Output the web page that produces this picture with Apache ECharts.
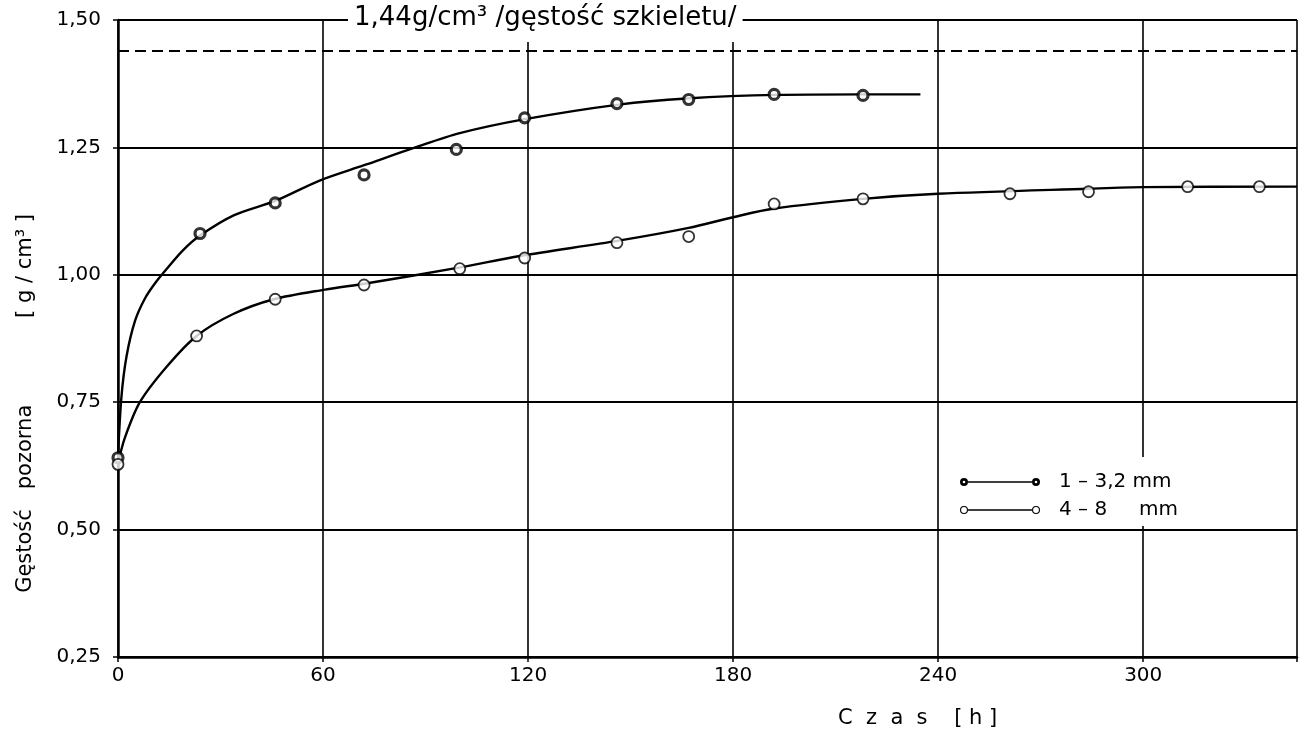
<!DOCTYPE html>
<html>
<head>
<meta charset="utf-8">
<title>Gęstość pozorna</title>
<script src="https://cdn.jsdelivr.net/npm/echarts@6/dist/echarts.min.js"></script>
<style>
  html, body { margin: 0; padding: 0; background: #fff; }
  #chart { width: 1307px; height: 736px; }
</style>
</head>
<body>
<div id="chart"></div>
<script>
  // measured points: time [h] / apparent density [g/cm3]
  const smallTime = [0, 24, 46, 72, 99, 119, 146, 167, 192, 218]
  const smallDensity = [0.641, 1.081, 1.141, 1.196, 1.246, 1.308, 1.336, 1.344, 1.354, 1.352]
  const largeTime = [0, 23, 46, 72, 100, 119, 146, 167, 192, 218, 261, 284, 313, 334]
  const largeDensity = [0.628, 0.880, 0.952, 0.980, 1.012, 1.033, 1.063, 1.075, 1.139, 1.149, 1.159, 1.163, 1.173, 1.173]

  // hand drawn curves
  const smallCurveTime = [0, 1, 2.5, 5, 8, 11, 14.3, 19, 24, 34, 46, 59, 72, 87, 100, 118.7, 146.5, 166.4, 192.7, 217.8, 234.8]
  const smallCurveDensity = [0.645, 0.76, 0.84, 0.91, 0.955, 0.985, 1.012, 1.048, 1.077, 1.117, 1.145, 1.185, 1.215, 1.25, 1.278, 1.305, 1.334, 1.346, 1.353, 1.354, 1.354]
  const largeCurveTime = [0, 2, 6.4, 14.3, 23, 33.7, 45.6, 60.6, 72.5, 99.7, 117.6, 146.5, 167, 180, 192, 218, 240, 284, 300, 345]
  const largeCurveDensity = [0.63, 0.68, 0.75, 0.82, 0.88, 0.923, 0.952, 0.971, 0.983, 1.014, 1.037, 1.067, 1.092, 1.113, 1.13, 1.149, 1.159, 1.169, 1.172, 1.173]

  const xTicks = [0, 60, 120, 180, 240, 300]
  const xMax = 345
  const yTicks = [0.25, 0.5, 0.75, 1.0, 1.25, 1.5]
  const skeletonDensity = 1.44
  const seriesNames = ['1 – 3,2 mm', '4 – 8     mm']

  const font = "'DejaVu Sans', sans-serif"
  const ink = '#000'

  const zip = (xs, ys) => xs.map((x, i) => [x, ys[i]])

  // legend icons: line with a circle at each end (80 x 10)
  const ring = (cx, r, hole) =>
    'M' + (cx - r) + ',5 A' + r + ',' + r + ' 0 1,1 ' + (cx + r) + ',5 A' + r + ',' + r + ' 0 1,1 ' + (cx - r) + ',5 Z ' +
    'M' + (cx - hole) + ',5 A' + hole + ',' + hole + ' 0 1,0 ' + (cx + hole) + ',5 A' + hole + ',' + hole + ' 0 1,0 ' + (cx - hole) + ',5 Z '
  const stem = 'M8,4.3 L72,4.3 L72,5.7 L8,5.7 Z '
  const iconDark = 'path://' + ring(4, 4, 1.3) + stem + ring(76, 4, 1.3)
  const iconOpen = 'path://' + ring(4, 4, 2.9) + stem + ring(76, 4, 2.9)

  const chart = echarts.init(document.getElementById('chart'))

  const option = {
    backgroundColor: '#fff',
    animation: false,
    grid: {
      left: 118,
      right: 10,
      top: 20,
      bottom: 79
    },
    xAxis: {
      type: 'value',
      min: xTicks[0],
      max: xMax,
      interval: 60,
      axisLine: { show: true, onZero: false, lineStyle: { color: ink, width: 2.5 } },
      axisTick: { show: true, length: 5, lineStyle: { color: ink, width: 1.5 } },
      axisLabel: {
        color: ink,
        fontFamily: font,
        fontSize: 20,
        margin: 9,
        formatter: v => (xTicks.includes(v) ? String(v) : '')
      },
      splitLine: { show: true, lineStyle: { color: ink, width: 1.6 } }
    },
    yAxis: {
      type: 'value',
      min: yTicks[0],
      max: yTicks[yTicks.length - 1],
      interval: 0.25,
      axisLine: { show: true, onZero: false, lineStyle: { color: ink, width: 2.5 } },
      axisTick: { show: true, length: 5, lineStyle: { color: ink, width: 1.5 } },
      axisLabel: {
        color: ink,
        fontFamily: font,
        fontSize: 20,
        margin: 17,
        formatter: v => v.toFixed(2).replace('.', ',')
      },
      splitLine: { show: true, lineStyle: { color: ink, width: 2 } }
    },
    legend: {
      orient: 'vertical',
      left: 950,
      top: 457,
      itemWidth: 80,
      itemHeight: 10,
      itemGap: 8,
      backgroundColor: '#fff',
      padding: [15, 16, 6, 10],
      textStyle: { color: ink, fontFamily: font, fontSize: 20, padding: [0, 0, 0, 14] },
      itemStyle: { color: ink, borderWidth: 0 },
      data: [
        { name: seriesNames[0], icon: iconDark },
        { name: seriesNames[1], icon: iconOpen }
      ]
    },
    series: [
      {
        name: seriesNames[0],
        type: 'line',
        data: zip(smallCurveTime, smallCurveDensity),
        smooth: 0.3,
        showSymbol: false,
        lineStyle: { color: ink, width: 2.4 },
        itemStyle: { color: ink },
        z: 2,
        markLine: {
          silent: true,
          symbol: 'none',
          label: { show: false },
          lineStyle: { color: ink, width: 2, type: [11, 6] },
          data: [{ yAxis: skeletonDensity }]
        }
      },
      {
        name: seriesNames[0],
        type: 'scatter',
        data: zip(smallTime, smallDensity),
        symbol: 'circle',
        symbolSize: 10,
        itemStyle: { color: '#fff', borderColor: ink, borderWidth: 3.2 },
        z: 4
      },
      {
        name: seriesNames[1],
        type: 'line',
        data: zip(largeCurveTime, largeCurveDensity),
        smooth: 0.3,
        showSymbol: false,
        lineStyle: { color: ink, width: 2.4 },
        itemStyle: { color: ink },
        z: 2
      },
      {
        name: seriesNames[1],
        type: 'scatter',
        data: zip(largeTime, largeDensity),
        symbol: 'circle',
        symbolSize: 11,
        itemStyle: { color: '#fff', borderColor: ink, borderWidth: 1.8 },
        z: 4
      }
    ],
    graphic: [
      {
        // note above the skeleton density line, breaks the top frame
        type: 'text',
        left: 348,
        top: 3,
        z: 10,
        style: {
          text: '1,44g/cm³ /gęstość szkieletu/',
          font: '26px ' + font,
          fill: ink,
          backgroundColor: '#fff',
          padding: [2, 6, 11, 6]
        }
      },
      // axis title, one word at a time to keep the wide spacing of the original
      {
        type: 'text',
        x: 26,
        y: 551,
        rotation: Math.PI / 2,
        style: { text: 'Gęstość', font: '21px ' + font, fill: ink, align: 'center', verticalAlign: 'middle' }
      },
      {
        type: 'text',
        x: 26,
        y: 447,
        rotation: Math.PI / 2,
        style: { text: 'pozorna', font: '21px ' + font, fill: ink, align: 'center', verticalAlign: 'middle' }
      },
      {
        type: 'text',
        x: 26,
        y: 266,
        rotation: Math.PI / 2,
        style: { text: '[ g / cm³ ]', font: '21px ' + font, fill: ink, align: 'center', verticalAlign: 'middle' }
      },
      {
        type: 'text',
        left: 838,
        top: 708,
        style: {
          text: 'C  z  a  s    [ h ]',
          font: '21px ' + font,
          fill: ink
        }
      }
    ]
  }

  chart.setOption(option)
</script>
</body>
</html>
